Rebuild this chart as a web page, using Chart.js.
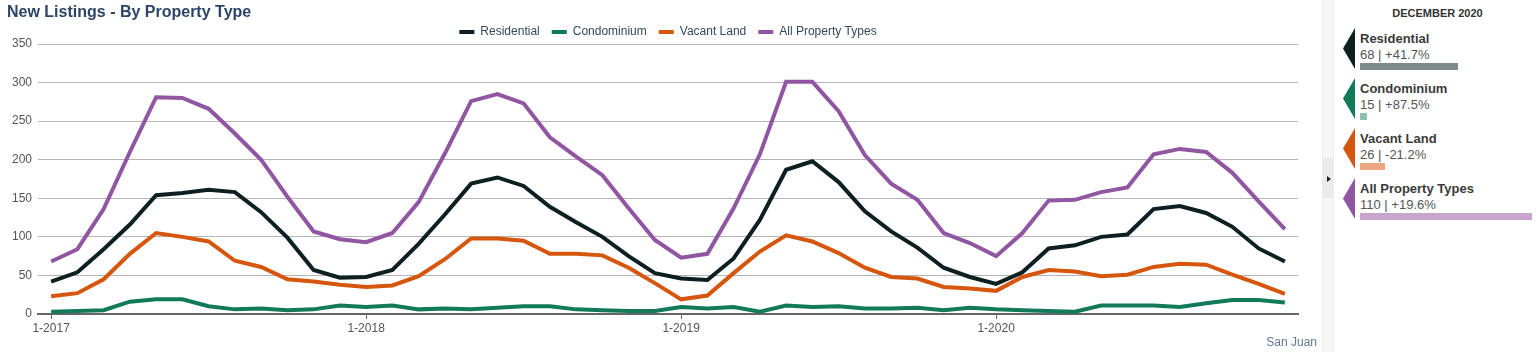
<!DOCTYPE html>
<html>
<head>
<meta charset="utf-8">
<script src="https://cdn.jsdelivr.net/npm/chart.js@4.4.0/dist/chart.umd.min.js"></script>
<style>
  body { margin: 0; background: #fff; font-family: "Liberation Sans", Arial, sans-serif; }
  #wrap { position: relative; width: 1540px; height: 352px; overflow: hidden; }
  #title { position: absolute; left: 7px; top: 3px; font-size: 16px; font-weight: bold; color: #2c4566; }
  #chartBox { position: absolute; left: 0; top: 0; width: 1318px; height: 352px; }
  #place { position: absolute; right: 223px; top: 335px; font-size: 12px; color: #5e7896; }
  #strip { position: absolute; left: 1322px; top: 0; width: 10px; height: 352px; background: #f7f7f7;
    border-left: 1px solid #ededed; border-right: 1px solid #ededed; }
  #toggle { position: absolute; left: 1323px; top: 158px; width: 10px; height: 40px; background: #ebebeb; }
  #toggle:after { content: ""; position: absolute; left: 4px; top: 18px; width: 0; height: 0;
    border-left: 4px solid #222; border-top: 3px solid transparent; border-bottom: 3px solid transparent; }
  #month { position: absolute; left: 1335px; width: 205px; top: 7px; text-align: center;
    font-size: 11px; font-weight: bold; color: #333; }
  .entry { position: absolute; left: 1343px; width: 197px; height: 45px; }
  .chev { position: absolute; left: 0; top: -3px; width: 12px; height: 41px; clip-path: polygon(0 50%, 100% 0, 100% 100%); }
  .name { position: absolute; left: 17px; top: 0; font-size: 13px; font-weight: bold; color: #3a3a3a; white-space: nowrap; }
  .val { position: absolute; left: 17px; top: 16px; font-size: 13px; color: #555; white-space: nowrap; }
  .bar { position: absolute; left: 17px; top: 32px; height: 7px; }
  .bar0 { width: 98px; background: #7f8a8a; }
  .bar1 { width: 7px; background: #8cc2ad; }
  .bar2 { width: 25px; background: #eca680; }
  .bar3 { width: 172px; background: #c7a4cb; }
</style>
</head>
<body>
<div id="wrap">
  <div id="chartBox"><canvas id="listingsChart"></canvas></div>
  <div id="title">New Listings - By Property Type</div>
  <div id="place">San Juan</div>
  <div id="strip"></div>
  <div id="toggle"></div>
  <div id="month">DECEMBER 2020</div>
  <div id="panel"></div>
</div>
<script>
const years = [2017, 2018, 2019, 2020];
const monthNums = [1, 2, 3, 4, 5, 6, 7, 8, 9, 10, 11, 12];
const labels = years.flatMap(y => monthNums.map(m => `${m}-${y}`));

const seriesNames = ['Residential', 'Condominium', 'Vacant Land', 'All Property Types'];
const seriesColors = ['#0e1f22', '#137a58', '#d5560c', '#9056a2'];

const residential = [
  42, 54, 84, 116, 154, 157, 161, 158, 132, 99, 57, 47,
  48, 57, 91, 129, 169, 177, 166, 139, 119, 100, 75, 53,
  46, 44, 72, 122, 187, 198, 171, 133, 107, 86, 60, 48,
  39, 54, 85, 89, 100, 103, 136, 140, 131, 113, 85, 68
];
const condominium = [
  3, 4, 5, 16, 19, 19, 10, 6, 7, 5, 6, 11,
  9, 11, 6, 7, 6, 8, 10, 10, 6, 5, 4, 4,
  9, 7, 9, 3, 11, 9, 10, 7, 7, 8, 5, 8,
  6, 5, 4, 3, 11, 11, 11, 9, 14, 18, 18, 15
];
const vacantLand = [
  23, 27, 45, 78, 105, 100, 94, 69, 61, 45, 42, 38,
  35, 37, 49, 71, 98, 98, 95, 78, 78, 76, 60, 40,
  19, 24, 53, 81, 102, 94, 79, 60, 48, 46, 35, 33,
  30, 48, 57, 55, 49, 51, 61, 65, 64, 51, 39, 26
];
const allTypes = [
  68, 84, 136, 210, 281, 280, 266, 234, 200, 152, 107, 97,
  93, 105, 145, 208, 276, 285, 273, 229, 204, 180, 137, 96,
  73, 78, 137, 207, 301, 301, 263, 206, 169, 148, 105, 92,
  75, 105, 147, 148, 158, 164, 207, 214, 210, 183, 146, 110
];
const yTicks = [0, 50, 100, 150, 200, 250, 300, 350];

const panelCounts = [68, 15, 26, 110];
const panelChanges = ['+41.7%', '+87.5%', '-21.2%', '+19.6%'];

Chart.defaults.font.family = '"Liberation Sans", Arial, sans-serif';

const seriesData = [residential, condominium, vacantLand, allTypes];

const ctx = document.getElementById('listingsChart').getContext('2d');
new Chart(ctx, {
  type: 'line',
  data: {
    labels: labels,
    datasets: seriesNames.map((name, i) => ({
      label: name,
      data: seriesData[i],
      borderColor: seriesColors[i],
      backgroundColor: seriesColors[i],
      borderWidth: 4,
      pointRadius: 0,
      pointHoverRadius: 0,
      tension: 0,
      fill: false
    }))
  },
  options: {
    responsive: true,
    maintainAspectRatio: false,
    animation: false,
    layout: { padding: { top: 14, right: 20, bottom: 0, left: 0 } },
    plugins: {
      tooltip: { enabled: false },
      legend: {
        position: 'top',
        fullSize: false,
        maxHeight: 30,
        labels: {
          boxWidth: 15,
          boxHeight: 4,
          padding: 12,
          color: '#34495e',
          font: { size: 12 },
          generateLabels: chart => Chart.defaults.plugins.legend.labels.generateLabels(chart)
            .map(l => ({ ...l, fillStyle: l.strokeStyle, lineWidth: 0 }))
        }
      }
    },
    scales: {
      x: {
        offset: true,
        grid: {
          display: true,
          drawOnChartArea: false,
          drawTicks: true,
          tickLength: 5,
          offset: false,
          color: c => c.index % 12 === 0 ? '#666' : 'rgba(0,0,0,0)'
        },
        border: { display: true, color: '#666', width: 2 },
        ticks: {
          autoSkip: false,
          maxRotation: 0,
          padding: 2,
          color: '#555',
          font: { size: 12 },
          callback: (v, i) => i % 12 === 0 ? labels[i] : ''
        },
        afterFit: s => { s.height = 38; }
      },
      y: {
        min: yTicks[0],
        max: yTicks[yTicks.length - 1],
        afterBuildTicks: s => { s.ticks = yTicks.map(v => ({ value: v })); },
        ticks: { padding: 6, color: '#555', font: { size: 12 } },
        grid: { color: '#b5b5b5', lineWidth: 1, drawTicks: false },
        border: { display: false },
        afterFit: s => { s.width = 38; }
      }
    }
  }
});

// side summary for the latest month
const panel = document.getElementById('panel');
seriesNames.forEach((name, i) => {
  const div = document.createElement('div');
  div.className = 'entry';
  div.style.top = (31 + 50 * i) + 'px';
  div.innerHTML = `
    <div class="chev" style="background:${seriesColors[i]}"></div>
    <div class="name">${name}</div>
    <div class="val">${panelCounts[i]} | ${panelChanges[i]}</div>
    <div class="bar bar${i}"></div>
  `;
  panel.appendChild(div);
});
</script>
</body>
</html>
